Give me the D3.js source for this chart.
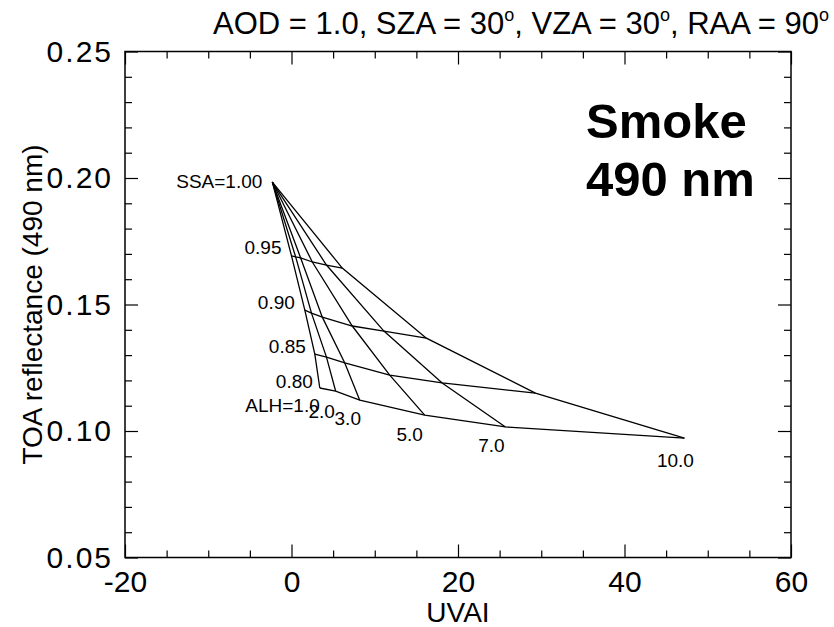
<!DOCTYPE html>
<html>
<head>
<meta charset="utf-8">
<script src="https://cdn.jsdelivr.net/npm/d3@7"></script>
<style>
  html, body { margin: 0; padding: 0; background: #fff; }
  svg { display: block; font-family: "Liberation Sans", Arial, Helvetica, sans-serif; }
</style>
</head>
<body>
<svg id="chart" width="834" height="627"></svg>
<script>
// Lookup table: TOA reflectance at 490 nm vs UVAI for smoke,
// one row per single-scattering albedo, one column per aerosol layer height.
const ssaLevels = [1.00, 0.95, 0.90, 0.85, 0.80];
const alhLevels = [1.0, 2.0, 3.0, 5.0, 7.0, 10.0];

const uvaiSSA100 = [-2.3, -2.3, -2.3, -2.3, -2.3, -2.3];
const reflSSA100 = [0.1984, 0.1984, 0.1984, 0.1984, 0.1984, 0.1984];
const uvaiSSA095 = [0.0, 0.5, 1.1, 2.5, 4.2, 6.1];
const reflSSA095 = [0.1692, 0.1688, 0.1684, 0.1668, 0.1656, 0.1644];
const uvaiSSA090 = [1.6, 2.4, 3.7, 7.3, 11.1, 16.2];
const reflSSA090 = [0.1478, 0.1466, 0.1450, 0.1415, 0.1395, 0.1367];
const uvaiSSA085 = [2.8, 4.2, 6.4, 11.8, 18.1, 29.3];
const reflSSA085 = [0.1304, 0.1292, 0.1269, 0.1221, 0.1190, 0.1150];
const uvaiSSA080 = [3.4, 5.3, 8.2, 16.0, 25.7, 47.2];
const reflSSA080 = [0.1170, 0.1158, 0.1122, 0.1063, 0.1016, 0.0972];

const xTicks = [-20, 0, 20, 40, 60];
const yTicks = [0.05, 0.10, 0.15, 0.20, 0.25];
const xLimits = [-20, 60];
const yLimits = [0.05, 0.25];

const ssaLabels = ["SSA=1.00", "0.95", "0.90", "0.85", "0.80"];
const alhLabels = ["ALH=1.0", "2.0", "3.0", "5.0", "7.0", "10.0"];

const uvaiRows = [uvaiSSA100, uvaiSSA095, uvaiSSA090, uvaiSSA085, uvaiSSA080];
const reflRows = [reflSSA100, reflSSA095, reflSSA090, reflSSA085, reflSSA080];

// Plot frame
const frame = { left: 125, right: 791, top: 51.5, bottom: 557.5 };

const svg = d3.select("#chart");
const x = d3.scaleLinear().domain(xLimits).range([frame.left, frame.right]);
const y = d3.scaleLinear().domain(yLimits).range([frame.bottom, frame.top]);

const grid = ssaLevels.map((s, i) => alhLevels.map((h, j) => ({
  ssa: s, alh: h, uvai: uvaiRows[i][j], refl: reflRows[i][j]
})));

const line = d3.line().x(d => x(d.uvai)).y(d => y(d.refl));
const g = svg.append("g");

// Constant-SSA lines
g.selectAll("path.ssa").data(grid).join("path")
  .attr("class", "ssa")
  .attr("d", line)
  .attr("fill", "none").attr("stroke", "#000").attr("stroke-width", 1.3);

// Constant-ALH lines
const columns = alhLevels.map((h, j) => grid.map(row => row[j]));
g.selectAll("path.alh").data(columns).join("path")
  .attr("class", "alh")
  .attr("d", line)
  .attr("fill", "none").attr("stroke", "#000").attr("stroke-width", 1.3);

// SSA labels, to the left of the ALH=1.0 node of each row
const ssaOffsets = [[-10, 6], [-10, -2], [-10, -1], [-9, -1], [-7, 0]];
g.selectAll("text.ssaLab").data(ssaLabels).join("text")
  .attr("class", "ssaLab")
  .attr("x", (d, i) => x(grid[i][0].uvai) + ssaOffsets[i][0])
  .attr("y", (d, i) => y(grid[i][0].refl) + ssaOffsets[i][1])
  .attr("text-anchor", "end")
  .attr("font-size", 19)
  .text(d => d);

// ALH labels, below the SSA=0.80 nodes
const alhOffsets = [[0, 24], [-14, 27], [-12, 25], [-15, 26], [-14, 25], [-9, 29]];
const last = grid[grid.length - 1];
g.selectAll("text.alhLab").data(alhLabels).join("text")
  .attr("class", "alhLab")
  .attr("x", (d, i) => x(last[i].uvai) + alhOffsets[i][0])
  .attr("y", (d, i) => y(last[i].refl) + alhOffsets[i][1])
  .attr("text-anchor", (d, i) => i === 0 ? "end" : "middle")
  .attr("font-size", 19)
  .text(d => d);

// Frame
svg.append("rect")
  .attr("x", frame.left).attr("y", frame.top)
  .attr("width", frame.right - frame.left).attr("height", frame.bottom - frame.top)
  .attr("fill", "none").attr("stroke", "#000").attr("stroke-width", 1.5);

// Ticks on all four sides, pointing inward
const majorLen = 13, minorLen = 7;
const xMinor = d3.range(xLimits[0], xLimits[1] + 0.001, 5).filter(v => !xTicks.includes(v));
const yMinor = d3.range(5, 26).map(v => v / 100).filter(v => !yTicks.some(t => Math.abs(t - v) < 1e-9));

const tickFont = 30;
const axisBottom = d3.axisBottom(x).tickValues(xTicks).tickSize(-majorLen).tickPadding(13).tickFormat(d => String(d));
const axisLeft = d3.axisLeft(y).tickValues(yTicks).tickSize(-majorLen).tickPadding(12).tickFormat(d3.format(".2f"));
const axisTop = d3.axisTop(x).tickValues(xTicks).tickSize(-majorLen).tickFormat("");
const axisRight = d3.axisRight(y).tickValues(yTicks).tickSize(-majorLen).tickFormat("");

function styleAxis(sel) {
  sel.select(".domain").remove();
  sel.selectAll(".tick line").attr("stroke", "#000").attr("stroke-width", 1.2);
  sel.selectAll(".tick text").attr("fill", "#000").attr("font-size", tickFont)
    .attr("font-family", "Liberation Sans, Arial, sans-serif");
}

svg.append("g").attr("transform", `translate(0,${frame.bottom})`).call(axisBottom).call(styleAxis);
svg.append("g").attr("transform", `translate(${frame.left},0)`).call(axisLeft).call(styleAxis)
  .call(s => s.selectAll(".tick text").attr("letter-spacing", 2));
svg.append("g").attr("transform", `translate(0,${frame.top})`).call(axisTop).call(styleAxis);
svg.append("g").attr("transform", `translate(${frame.right},0)`).call(axisRight).call(styleAxis);

svg.append("g").attr("transform", `translate(0,${frame.bottom})`)
  .call(d3.axisBottom(x).tickValues(xMinor).tickSize(-minorLen).tickFormat("")).call(styleAxis);
svg.append("g").attr("transform", `translate(0,${frame.top})`)
  .call(d3.axisTop(x).tickValues(xMinor).tickSize(-minorLen).tickFormat("")).call(styleAxis);
svg.append("g").attr("transform", `translate(${frame.left},0)`)
  .call(d3.axisLeft(y).tickValues(yMinor).tickSize(-minorLen).tickFormat("")).call(styleAxis);
svg.append("g").attr("transform", `translate(${frame.right},0)`)
  .call(d3.axisRight(y).tickValues(yMinor).tickSize(-minorLen).tickFormat("")).call(styleAxis);

// Axis titles
svg.append("text")
  .attr("x", (frame.left + frame.right) / 2).attr("y", 622)
  .attr("text-anchor", "middle").attr("font-size", 28).text("UVAI");
svg.append("text")
  .attr("transform", `translate(42,${(frame.top + frame.bottom) / 2}) rotate(-90)`)
  .attr("text-anchor", "middle").attr("font-size", 28).text("TOA reflectance (490 nm)");

// Title with degree superscripts
const title = svg.append("text").attr("x", 829).attr("y", 34)
  .attr("text-anchor", "end").attr("font-size", 31);
const titleParts = [["AOD = 1.0, SZA = 30", "o"], [", VZA = 30", "o"], [", RAA = 90", "o"]];
titleParts.forEach(([txt, sup]) => {
  title.append("tspan").text(txt);
  title.append("tspan").attr("font-size", 18).attr("baseline-shift", "70%").text(sup);
});

// Annotation
svg.append("text").attr("x", 586).attr("y", 138)
  .attr("font-size", 49).attr("font-weight", "bold").text("Smoke");
svg.append("text").attr("x", 586).attr("y", 196)
  .attr("font-size", 49).attr("font-weight", "bold").text("490 nm");
</script>
</body>
</html>
